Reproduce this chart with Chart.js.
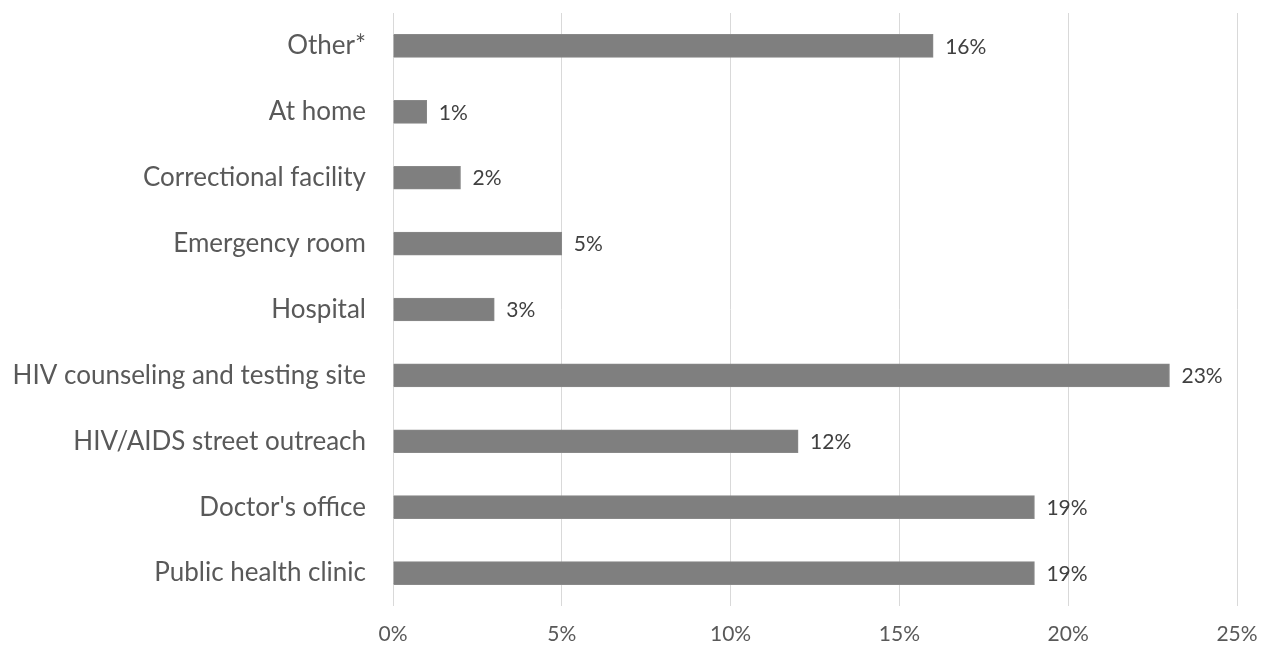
<!DOCTYPE html>
<html>
<head>
<meta charset="utf-8">
<script src="https://cdn.jsdelivr.net/npm/chart.js@4"></script>
<style>
  html, body { margin: 0; padding: 0; background: #fff; }
  #wrap { width: 1261px; height: 646px; }
</style>
</head>
<body>
<div id="wrap"><canvas id="locationChart"></canvas></div>
<script>
const categories = [
    'Other*',
    'At home',
    'Correctional facility',
    'Emergency room',
    'Hospital',
    'HIV counseling and testing site',
    'HIV/AIDS street outreach',
    "Doctor's office",
    'Public health clinic'
];
const percentValues = [16, 1, 2, 5, 3, 23, 12, 19, 19];
const xTicks = [0, 5, 10, 15, 20, 25];

const FONT = 'Lato, "Open Sans", sans-serif';

// writes "NN%" just past the end of each bar
const barLabels = {
    id: 'barLabels',
    afterDatasetsDraw(chart) {
        const ctx = chart.ctx;
        const meta = chart.getDatasetMeta(0);
        ctx.save();
        ctx.font = '21px ' + FONT;
        ctx.fillStyle = '#404040';
        ctx.textAlign = 'left';
        ctx.textBaseline = 'middle';
        meta.data.forEach(function(bar, i) {
            ctx.fillText(percentValues[i] + '%', bar.x + 12, bar.y + 1);
        });
        ctx.restore();
    }
};

new Chart(document.getElementById('locationChart'), {
    type: 'bar',
    data: {
        labels: categories,
        datasets: [{
            data: percentValues,
            backgroundColor: '#7f7f7f',
            borderColor: '#898989',
            borderWidth: 1,
            barThickness: 23
        }]
    },
    options: {
        indexAxis: 'y',
        responsive: true,
        maintainAspectRatio: false,
        animation: false,
        layout: { padding: { top: 13, right: 24, bottom: 0, left: 0 } },
        plugins: {
            legend: { display: false },
            tooltip: { enabled: false }
        },
        scales: {
            x: {
                min: 0,
                max: 25,
                afterBuildTicks: function(scale) {
                    scale.ticks = xTicks.map(function(v) { return { value: v }; });
                },
                afterFit: function(scale) {
                    scale.height = 40;
                    scale.paddingLeft = 0;
                    scale.paddingRight = 0;
                },
                grid: { color: '#d9d9d9', lineWidth: 1, drawTicks: false },
                border: { display: false },
                ticks: {
                    padding: 16,
                    maxRotation: 0,
                    color: '#595959',
                    font: { family: FONT, size: 21 },
                    callback: function(v) { return v + '%'; }
                }
            },
            y: {
                afterFit: function(scale) {
                    scale.width = 393;
                    scale.paddingTop = 0;
                    scale.paddingBottom = 0;
                },
                grid: { display: false, drawTicks: false },
                border: { display: false },
                ticks: {
                    padding: 27,
                    color: '#595959',
                    font: { family: FONT, size: 26 }
                }
            }
        }
    },
    plugins: [barLabels]
});
</script>
</body>
</html>
